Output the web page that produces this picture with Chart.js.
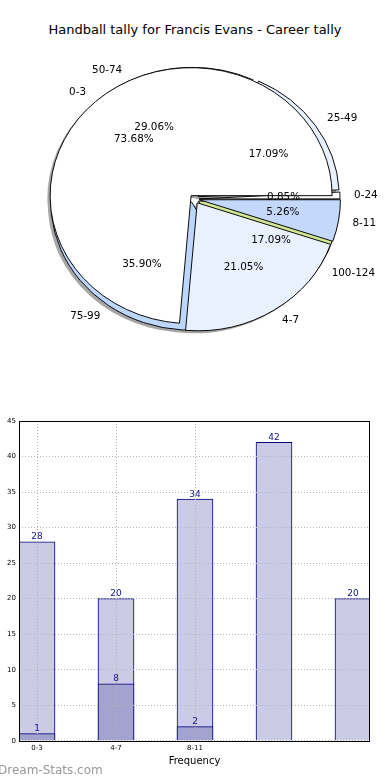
<!DOCTYPE html>
<html>
<head>
<meta charset="utf-8">
<script src="https://cdn.jsdelivr.net/npm/chart.js@4.4.0/dist/chart.umd.min.js"></script>
<style>
  html, body { margin: 0; padding: 0; background: #fff; }
  body { width: 390px; height: 780px; overflow: hidden; position: relative; font-family: "DejaVu Sans", sans-serif; }
  #title { position: absolute; top: 22px; left: 0; width: 390px; text-align: center; font-size: 13px; line-height: 16px; color: #000; white-space: nowrap; }
  canvas { position: absolute; left: 0; }
  #pieBack, #pieFront { top: 0; }
  #bar { top: 410px; }
  #wm { position: absolute; left: -2px; top: 762px; font-size: 12px; line-height: 16px; color: #999; white-space: nowrap; }
</style>
</head>
<body>
<div id="title">Handball tally for Francis Evans - Career tally</div>
<canvas id="pieBack" width="390" height="400"></canvas>
<canvas id="pieFront" width="390" height="400"></canvas>
<canvas id="bar" width="390" height="370"></canvas>
<div id="wm">Dream-Stats.com</div>
<script>
// ---------- data ----------
const frontPieLabels = ['0-3', '4-7', '8-11'];
const frontPieValues = [14, 4, 1];            // 73.68%, 21.05%, 5.26%
const backPieLabels = ['0-24', '25-49', '50-74', '75-99', '100-124'];
const backPieValues = [1, 20, 34, 42, 20];    // 0.85%, 17.09%, 29.06%, 35.90%, 17.09%
const barCategories = ['0-3', '4-7', '8-11', '', ''];
const barTotals = [28, 20, 34, 42, 20];
const barSubset = [1, 8, 2];
const yTickValues = [0, 5, 10, 15, 20, 25, 30, 35, 40, 45];

// ---------- styles ----------
const frontColors = ['#ffffff', '#eaf1fe', '#c4d8fc'];
const backColors = ['#ffffff', '#e9f0fe', '#ffffff', '#bdd6fc', '#d0e692'];
const R = 141;
const SY = 128 / 141;
Chart.defaults.font.family = "'DejaVu Sans', sans-serif";

let backChart = null, frontChart = null;

function explodedCenter(arc, ex) {
  const m = (arc.startAngle + arc.endAngle) / 2;
  return { x: arc.x + Math.cos(m) * ex, y: arc.y + Math.sin(m) * ex, m };
}

const pieDraw = {
  id: 'pieDraw',
  beforeDatasetsDraw(chart, args, opts) {
    const ctx = chart.ctx;
    const arcs = chart.getDatasetMeta(0).data;
    if (!arcs.length) return;
    const cx = arcs[0].x, cy = arcs[0].y;
    ctx.save();
    ctx.translate(cx, cy); ctx.scale(1, SY); ctx.translate(-cx, -cy);
    if (opts.shadow) {
      ctx.save();
      ctx.translate(-2.8, 2.8);
      ctx.beginPath();
      [chart, frontChart].forEach(ch => {
        if (!ch) return;
        const ex = ch.options.plugins.pieDraw.explode;
        ch.getDatasetMeta(0).data.forEach(a => {
          const c = explodedCenter(a, ex);
          ctx.moveTo(c.x, c.y);
          ctx.arc(c.x, c.y, a.outerRadius, a.startAngle, a.endAngle);
          ctx.closePath();
        });
      });
      ctx.fillStyle = 'rgba(77,77,77,0.5)';
      ctx.fill();
      ctx.restore();
    }
    arcs.forEach(a => {
      const c = explodedCenter(a, opts.explode);
      ctx.save();
      ctx.translate(c.x - a.x, c.y - a.y);
      a.draw(ctx);
      ctx.restore();
    });
    ctx.restore();
    return false;
  }
};

const pieLabels = {
  id: 'pieLabels',
  afterDraw(chart, args, opts) {
    if (!opts.enabled) return;
    const ctx = chart.ctx;
    ctx.save();
    ctx.font = "10.4px 'DejaVu Sans', sans-serif";
    ctx.fillStyle = '#000';
    ctx.textBaseline = 'middle';
    [backChart, chart].forEach(ch => {
      if (!ch) return;
      const ex = ch.options.plugins.pieDraw.explode;
      const labels = ch.data.labels;
      const vals = ch.data.datasets[0].data;
      const total = vals.reduce((s, v) => s + v, 0);
      ch.getDatasetMeta(0).data.forEach((a, i) => {
        const m = (a.startAngle + a.endAngle) / 2;
        const cos = Math.cos(m), sin = Math.sin(m);
        const lx = a.x + (ex + 1.1 * R) * cos;
        const ly = a.y + SY * (ex + 1.1 * R) * sin;
        ctx.textAlign = cos >= 0 ? 'left' : 'right';
        ctx.fillText(labels[i], lx, ly);
        const px = a.x + (ex + 0.6 * R) * cos;
        const py = a.y + SY * (ex + 0.6 * R) * sin;
        ctx.textAlign = 'center';
        ctx.fillText((vals[i] / total * 100).toFixed(2) + '%', px, py);
      });
    });
    ctx.restore();
  }
};

function pieConfig(labels, values, colors, explode, shadow, withLabels) {
  // matplotlib draws counter-clockwise from 3 o'clock: reverse and draw clockwise
  const idx = values.map((_, i) => i).reverse();
  return {
    type: 'pie',
    data: {
      labels: idx.map(i => labels[i]),
      datasets: [{
        data: idx.map(i => values[i]),
        backgroundColor: idx.map(i => colors[i]),
        borderColor: '#000',
        borderWidth: 1
      }]
    },
    options: {
      responsive: false,
      animation: false,
      events: [],
      rotation: 90,
      radius: R,
      layout: { padding: { left: 0, right: 1, top: 0, bottom: 2 } },
      plugins: {
        legend: { display: false },
        tooltip: { enabled: false },
        pieDraw: { explode: explode, shadow: shadow },
        pieLabels: { enabled: withLabels }
      }
    },
    plugins: [pieDraw, pieLabels]
  };
}

backChart = new Chart(document.getElementById('pieBack'),
  pieConfig(backPieLabels, backPieValues, backColors, 4.5, true, false));
frontChart = new Chart(document.getElementById('pieFront'),
  pieConfig(frontPieLabels, frontPieValues, frontColors, 5, false, true));
backChart.draw();
frontChart.draw();

// ---------- bar chart ----------
const barExtras = {
  id: 'barExtras',
  afterDraw(chart) {
    const ctx = chart.ctx;
    const a = chart.chartArea;
    ctx.save();
    ctx.font = "9px 'DejaVu Sans', sans-serif";
    ctx.fillStyle = '#14148a';
    ctx.textAlign = 'center';
    ctx.textBaseline = 'alphabetic';
    chart.data.datasets.forEach((ds, di) => {
      chart.getDatasetMeta(di).data.forEach((bar, i) => {
        ctx.fillText(String(ds.data[i].y), bar.x, bar.y - 2.5);
      });
    });
    ctx.strokeStyle = '#000';
    ctx.lineWidth = 1;
    ctx.strokeRect(Math.round(a.left) + 0.5, Math.round(a.top) + 0.5,
      Math.round(a.right) - Math.round(a.left) - 1, Math.round(a.bottom) - Math.round(a.top));
    ctx.restore();
  }
};

new Chart(document.getElementById('bar'), {
  type: 'bar',
  data: {
    datasets: [
      {
        data: barSubset.map((v, i) => ({ x: i, y: v })),
        backgroundColor: '#a3a3cf',
        borderColor: '#00007c',
        borderWidth: 1,
        grouped: false,
        order: 0,
        barThickness: 36
      },
      {
        data: barTotals.map((v, i) => ({ x: i, y: v })),
        backgroundColor: '#cbcbe5',
        borderColor: '#00007c',
        borderWidth: 1,
        grouped: false,
        order: 1,
        barThickness: 36
      }
    ]
  },
  options: {
    responsive: false,
    animation: false,
    events: [],
    layout: { padding: { left: 0, right: 20, top: 11, bottom: 0 } },
    plugins: { legend: { display: false }, tooltip: { enabled: false } },
    scales: {
      x: {
        type: 'linear',
        offset: false,
        min: -18 / 79,
        max: -18 / 79 + 351 / 79,
        afterBuildTicks: s => { s.ticks = [0, 1, 2].map(v => ({ value: v })); },
        afterFit: s => { s.height = 39.2; },
        ticks: {
          callback: v => barCategories[v],
          font: { size: 7 },
          color: '#000',
          padding: 3,
          maxRotation: 0,
          autoSkip: false
        },
        grid: { offset: false, color: '#b4b4b4', lineWidth: 1, drawTicks: false, z: 1 },
        border: { display: false, dash: [1, 2] },
        title: {
          display: true,
          text: 'Frequency',
          font: { size: 10 },
          color: '#000',
          padding: { top: 0, bottom: 13 }
        }
      },
      y: {
        min: 0,
        max: 45,
        afterBuildTicks: s => { s.ticks = yTickValues.map(v => ({ value: v })); },
        afterFit: s => { s.width = 19; },
        ticks: { font: { size: 7 }, color: '#000', padding: 3 },
        grid: { color: '#b4b4b4', lineWidth: 1, drawTicks: false, z: 1 },
        border: { display: false, dash: [1, 2] }
      }
    }
  },
  plugins: [barExtras]
});
</script>
</body>
</html>
